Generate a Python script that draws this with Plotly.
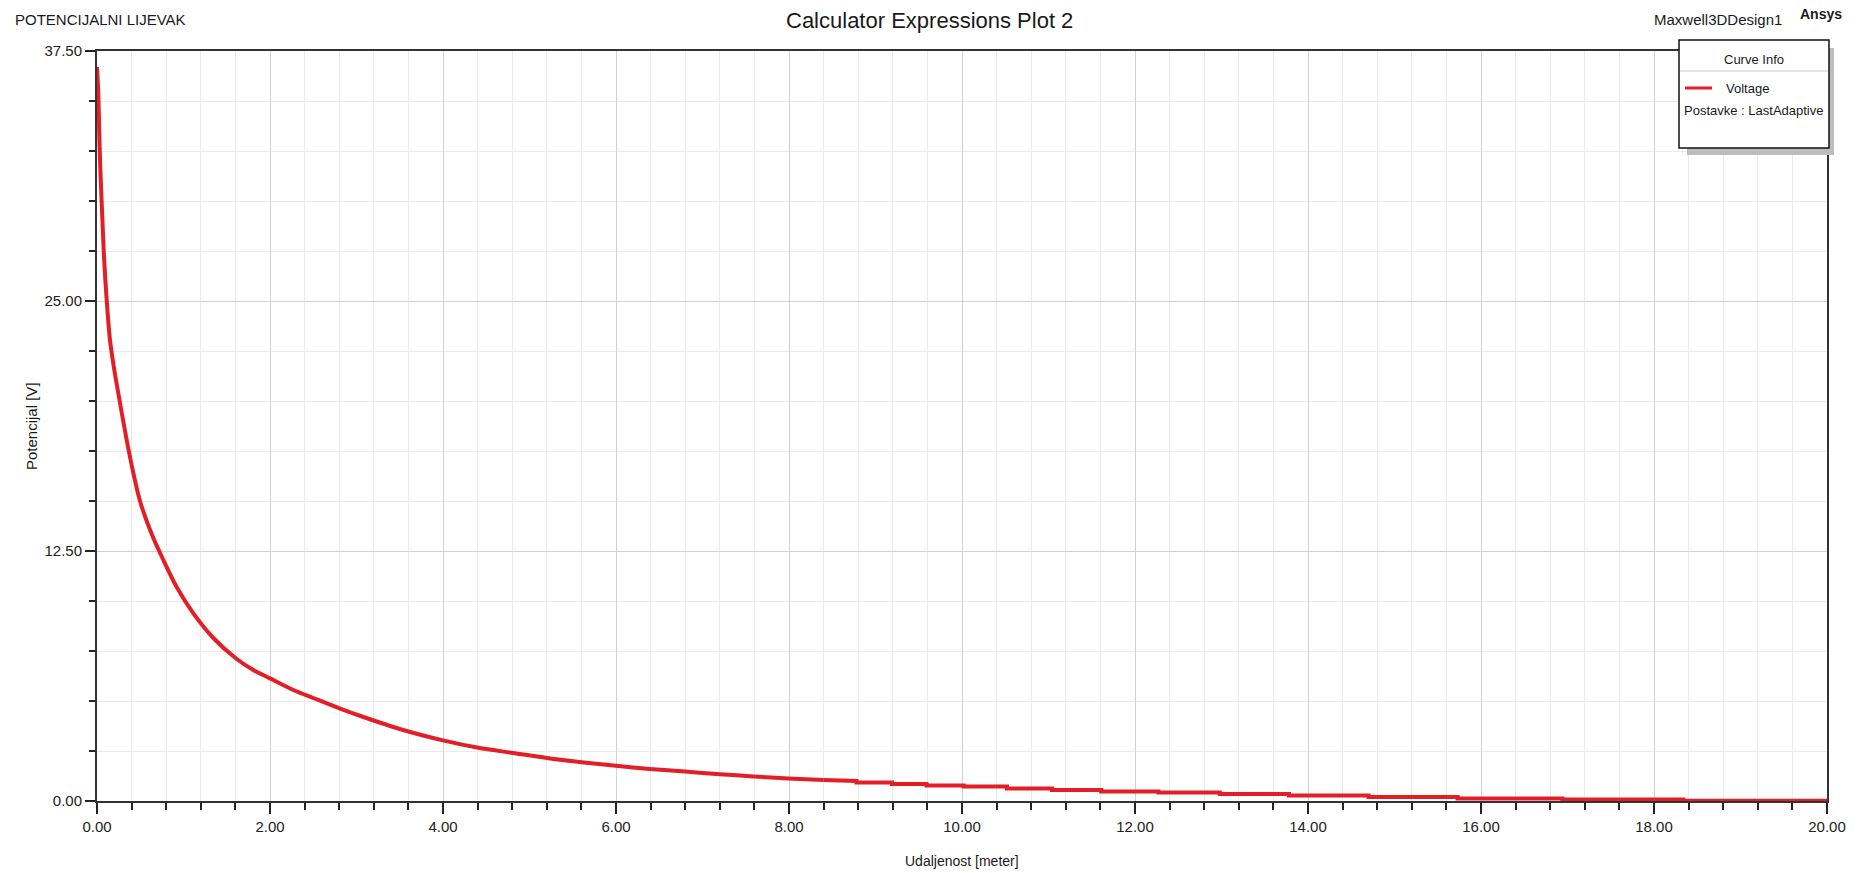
import plotly.graph_objects as go

# values (distance in meter, potential in V)
distance = [0.0, 0.015, 0.027, 0.042, 0.061, 0.081, 0.112, 0.15, 0.2, 0.266,
            0.343, 0.42, 0.497, 0.632, 0.767, 0.921, 1.114, 1.345, 1.615, 1.807,
            2.0, 2.27, 2.5, 2.81, 3.08, 3.5, 4.0, 4.41, 4.81, 5.2,
            5.6, 6.0, 6.39, 6.8, 7.2, 7.59, 7.99, 8.4, 8.78, 8.78,
            9.19, 9.19, 9.59, 9.59, 10.02, 10.02, 10.52, 10.52, 11.04, 11.04,
            11.61, 11.61, 12.27, 12.27, 12.98, 12.98, 13.78, 13.78, 14.70, 14.70,
            15.73, 15.73, 16.94, 16.94, 18.34, 18.34, 20.0]
potential = [36.7, 35.4, 33.2, 31.2, 29.2, 27.2, 25.05, 23.05, 21.55, 19.9,
             18.05, 16.4, 15.0, 13.35, 12.05, 10.7, 9.38, 8.15, 7.1, 6.55,
             6.13, 5.55, 5.15, 4.62, 4.2, 3.6, 3.03, 2.66, 2.4, 2.15,
             1.94, 1.76, 1.6, 1.47, 1.34, 1.23, 1.13, 1.05, 1.0, 0.92,
             0.92, 0.85, 0.85, 0.78, 0.78, 0.72, 0.72, 0.63, 0.63, 0.55,
             0.55, 0.48, 0.48, 0.42, 0.42, 0.35, 0.35, 0.27, 0.27, 0.2,
             0.2, 0.13, 0.13, 0.07, 0.07, 0.01, 0.01]
smooth_end = 38  # after this index the solver output is stair-stepped

x_ticks = [0, 2, 4, 6, 8, 10, 12, 14, 16, 18, 20]
y_ticks = [0, 12.5, 25, 37.5]

W, H = 1861, 873
L, R, T, B = 97, 1827, 51, 801   # plot area in pixels
FONT = "Liberation Sans, Arial, sans-serif"
RED = "#E21E26"


def px_x(p):
    return (p - L) / (R - L)


def px_y(p):
    return (B - p) / (B - T)


fig = go.Figure()
fig.add_trace(go.Scatter(x=distance[:smooth_end], y=potential[:smooth_end], mode="lines",
                         line=dict(color=RED, width=4, shape="spline", smoothing=0.8),
                         showlegend=False, name="Voltage"))
fig.add_trace(go.Scatter(x=distance[smooth_end - 1:], y=potential[smooth_end - 1:], mode="lines",
                         line=dict(color=RED, width=4), showlegend=False, name="Voltage"))

fig.update_xaxes(range=[0, 20], tickvals=x_ticks, tickformat=".2f", automargin=False,
                 ticks="outside", ticklen=11, tickwidth=1.5, tickcolor="#222",
                 showline=True, linecolor="#333", linewidth=2, mirror=True,
                 showgrid=True, gridcolor="#d2d2d2", gridwidth=1, zeroline=False,
                 tickfont=dict(family=FONT, size=15, color="#222"),
                 minor=dict(dtick=0.4, tick0=0, ticks="outside", ticklen=7,
                            tickcolor="#222", showgrid=True, gridcolor="#ebebeb"))
fig.update_yaxes(range=[0, 37.5], tickvals=y_ticks, tickformat=".2f", automargin=False,
                 ticks="outside", ticklen=10, tickwidth=1.5, tickcolor="#222",
                 showline=True, linecolor="#333", linewidth=2, mirror=True,
                 showgrid=True, gridcolor="#d2d2d2", gridwidth=1, zeroline=False,
                 tickfont=dict(family=FONT, size=15, color="#222"),
                 minor=dict(dtick=2.5, tick0=0, ticks="outside", ticklen=6,
                            tickcolor="#222", showgrid=True, gridcolor="#ebebeb"))

# curve info box with drop shadow
shapes = [
    dict(type="rect", xref="paper", yref="paper", x0=px_x(1687), x1=px_x(1834),
         y0=px_y(48), y1=px_y(155), fillcolor="#bdbdbd", line=dict(width=0)),
    dict(type="rect", xref="paper", yref="paper", x0=px_x(1679), x1=px_x(1829),
         y0=px_y(40), y1=px_y(148), fillcolor="white", line=dict(color="#111", width=1.5)),
    dict(type="line", xref="paper", yref="paper", x0=px_x(1680), x1=px_x(1828),
         y0=px_y(71), y1=px_y(71), line=dict(color="#c8c8c8", width=1)),
    dict(type="line", xref="paper", yref="paper", x0=px_x(1685), x1=px_x(1712),
         y0=px_y(88), y1=px_y(88), line=dict(color=RED, width=3)),
]


def txt(text, x, y, size, anchor="left", bold=False, angle=0):
    if bold:
        text = "<b>" + text + "</b>"
    return dict(text=text, xref="paper", yref="paper", x=px_x(x), y=px_y(y),
                xanchor=anchor, yanchor="middle", showarrow=False, textangle=angle,
                font=dict(family=FONT, size=size, color="#1a1a1a"))


annotations = [
    txt("POTENCIJALNI LIJEVAK", 13, 19, 15),
    txt("Calculator Expressions Plot 2", 929, 21, 22, anchor="center"),
    txt("Maxwell3DDesign1", 1652, 19, 15),
    txt("Ansys", 1798, 14, 14, bold=True),
    txt("Curve Info", 1754, 59, 13, anchor="center"),
    txt("Voltage", 1724, 89, 13),
    txt("Postavke : LastAdaptive", 1682, 111, 13),
    txt("Udaljenost [meter]", 962, 861, 14, anchor="center"),
    txt("Potencijal [V]", 31, 426, 15, anchor="center", angle=-90),
]

fig.update_layout(width=W, height=H, plot_bgcolor="white", paper_bgcolor="white",
                  margin=dict(l=L, r=W - R, t=T, b=H - B),
                  shapes=shapes, annotations=annotations)

# drop the default 8px body margin so the figure fills the window exactly
fig.write_html("out.html", config={"displayModeBar": False},
               post_script="document.body.style.margin = '0';")
